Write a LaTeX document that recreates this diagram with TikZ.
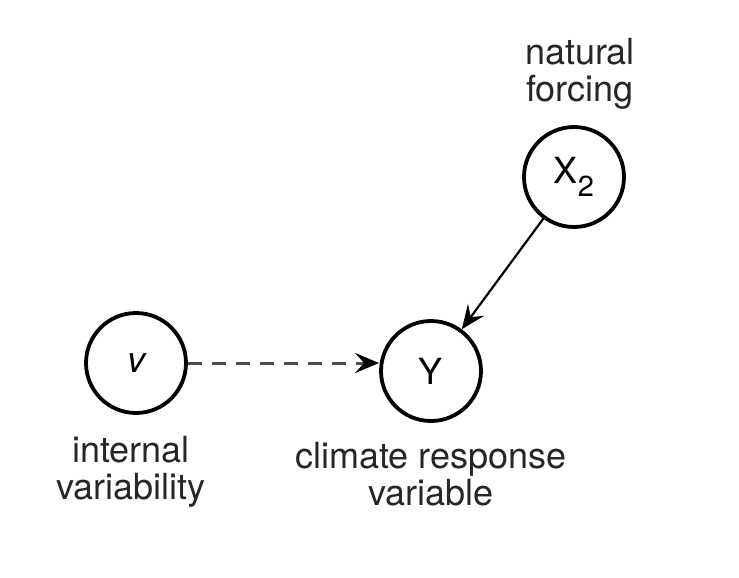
\documentclass[tikz,border=0pt]{standalone}
\usepackage{fontspec}
\setmainfont{TeX Gyre Heros}
\usetikzlibrary{arrows.meta}
\begin{document}
\begin{tikzpicture}[x=1pt,y=-1pt,
  var/.style={circle,draw=black,line width=3.8pt,minimum size=100pt,inner sep=0pt,
    font=\fontsize{36}{37}\selectfont},
  lbl/.style={align=center,font=\fontsize{36}{37}\selectfont,inner sep=0pt,text=black!85},
  conn/.style={line width=2.2pt,-{Stealth[length=24pt,width=20pt,inset=9pt,color=black]}}
]
\useasboundingbox (0,0) rectangle (739,578);
\node[var] (v) at (136,363) {\itshape v};
\node[var] (Y) at (431,371) {Y};
\node[var] (X) at (574,177) {X\raisebox{-0.35em}{\fontsize{29}{30}\selectfont 2}};
\node[lbl,anchor=base] (ln) at (580,102) {natural\\forcing};
\node[lbl,anchor=base] (li) at (131,499) {internal\\variability};
\node[lbl,anchor=base] (lc) at (431,505) {climate response\\variable};
\draw[conn,draw=black!70,line width=3pt,dash pattern=on 14pt off 10pt] (v.east) -- (v.east -| Y.west);
\draw[conn] (X) -- (Y);
\end{tikzpicture}
\end{document}
